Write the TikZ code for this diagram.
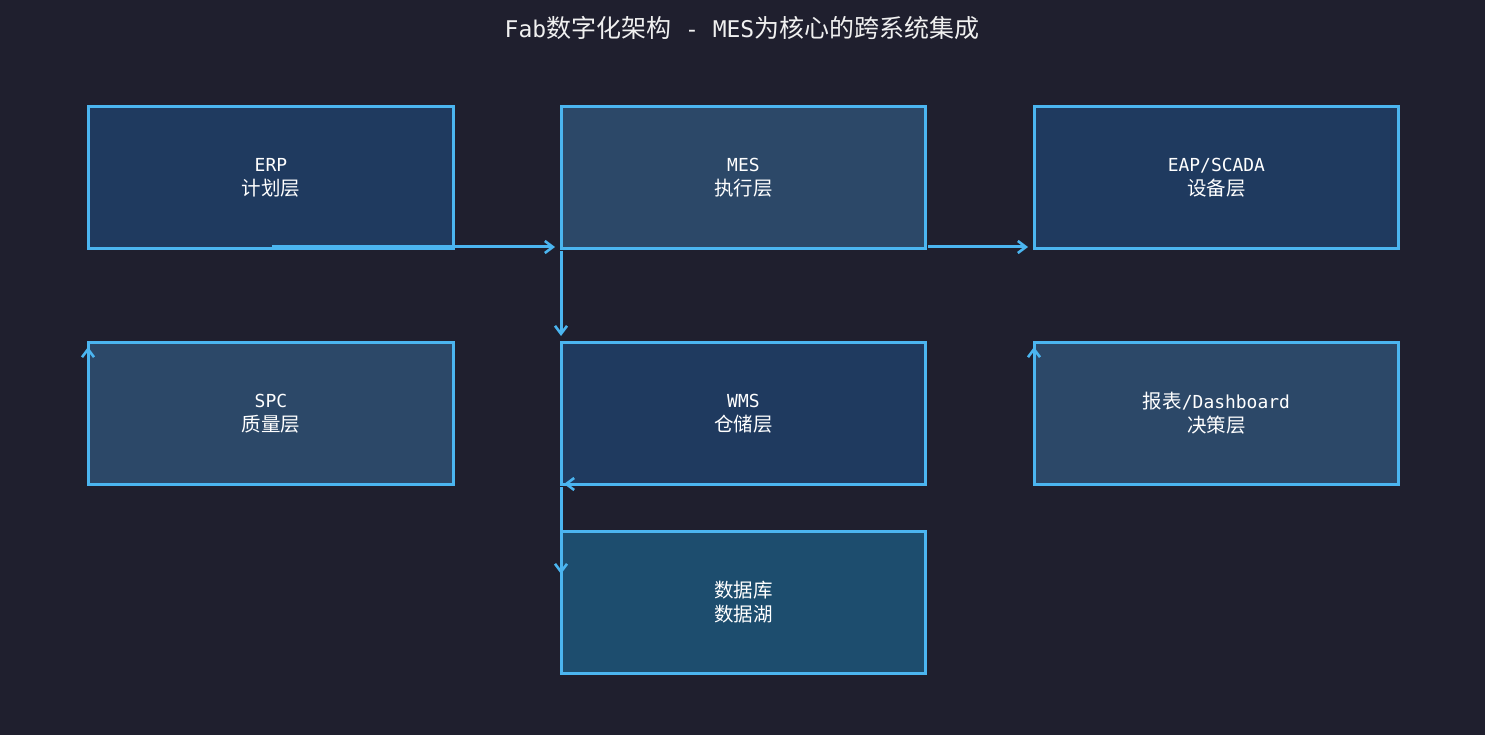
\documentclass[tikz,border=0pt]{standalone}
\usepackage{fontspec}
\setmainfont{DejaVu Sans Mono}[Scale=0.92]
\newfontfamily\cjk{Noto Sans CJK SC}
\usetikzlibrary{arrows.meta}
\definecolor{bg}{HTML}{1F1F2E}
\definecolor{bA}{HTML}{1F3A5F}
\definecolor{bB}{HTML}{2C4868}
\definecolor{bC}{HTML}{1D4D6E}
\definecolor{ln}{HTML}{4BB5F0}
\begin{document}
\begin{tikzpicture}[x=1pt,y=-1pt,
 box/.style={draw=ln,line width=2.8pt,text=white,font=\fontsize{19.5}{24}\selectfont,align=center,inner sep=0pt},
 arr/.style={draw=ln,line width=3pt,-{Straight Barb[length=8pt,width=12pt,line width=2.6pt]}}]
\fill[bg] (0,0) rectangle (1485,735);
\useasboundingbox (0,0) rectangle (1485,735);
\node[text=white!88!gray,font=\fontsize{25}{28}\selectfont] (title) at (742,28) {Fab{\cjk 数字化架构} - MES{\cjk 为核心的跨系统集成}};
\foreach \n/\a/\b/\c/\d/\f/\t in {erp/87/105/452/247/bA/{ERP\\\cjk 计划层},mes/560/105/924/247/bB/{MES\\\cjk 执行层},eap/1033/105/1397/247/bA/{EAP/SCADA\\\cjk 设备层},spc/87/341/452/483/bB/{SPC\\\cjk 质量层},wms/560/341/924/483/bA/{WMS\\\cjk 仓储层},dash/1033/341/1397/483/bB/{{\cjk 报表}/Dashboard\\\cjk 决策层},db/560/530/924/672/bC/{{\cjk 数据库}\\\cjk 数据湖}}{
 \fill[\f] (\a,\b) rectangle (\c,\d);
 \node[box,minimum width=\c-\a,minimum height=\d-\b,anchor=north west] (\n) at (\a,\b) {\t};
}
\coordinate (c1) at (272,247); \coordinate (c2) at (555,247);
\coordinate (c3) at (928,247); \coordinate (c4) at (1028,247);
\coordinate (c5) at (561,251); \coordinate (c6) at (561,336);
\coordinate (c7) at (88,387); \coordinate (c8) at (88,347);
\coordinate (c9) at (1034,387); \coordinate (c10) at (1034,347);
\coordinate (c11) at (921,484); \coordinate (c12) at (564,484);
\coordinate (c13) at (561,487); \coordinate (c14) at (561,574);
\draw[arr] (c1) -- (c2);
\draw[arr] (c3) -- (c4);
\draw[arr] (c5) -- (c6);
\draw[arr] (c7) -- (c8);
\draw[arr] (c9) -- (c10);
\draw[arr] (c11) -- (c12);
\draw[arr] (c13) -- (c14);
\end{tikzpicture}
\end{document}
